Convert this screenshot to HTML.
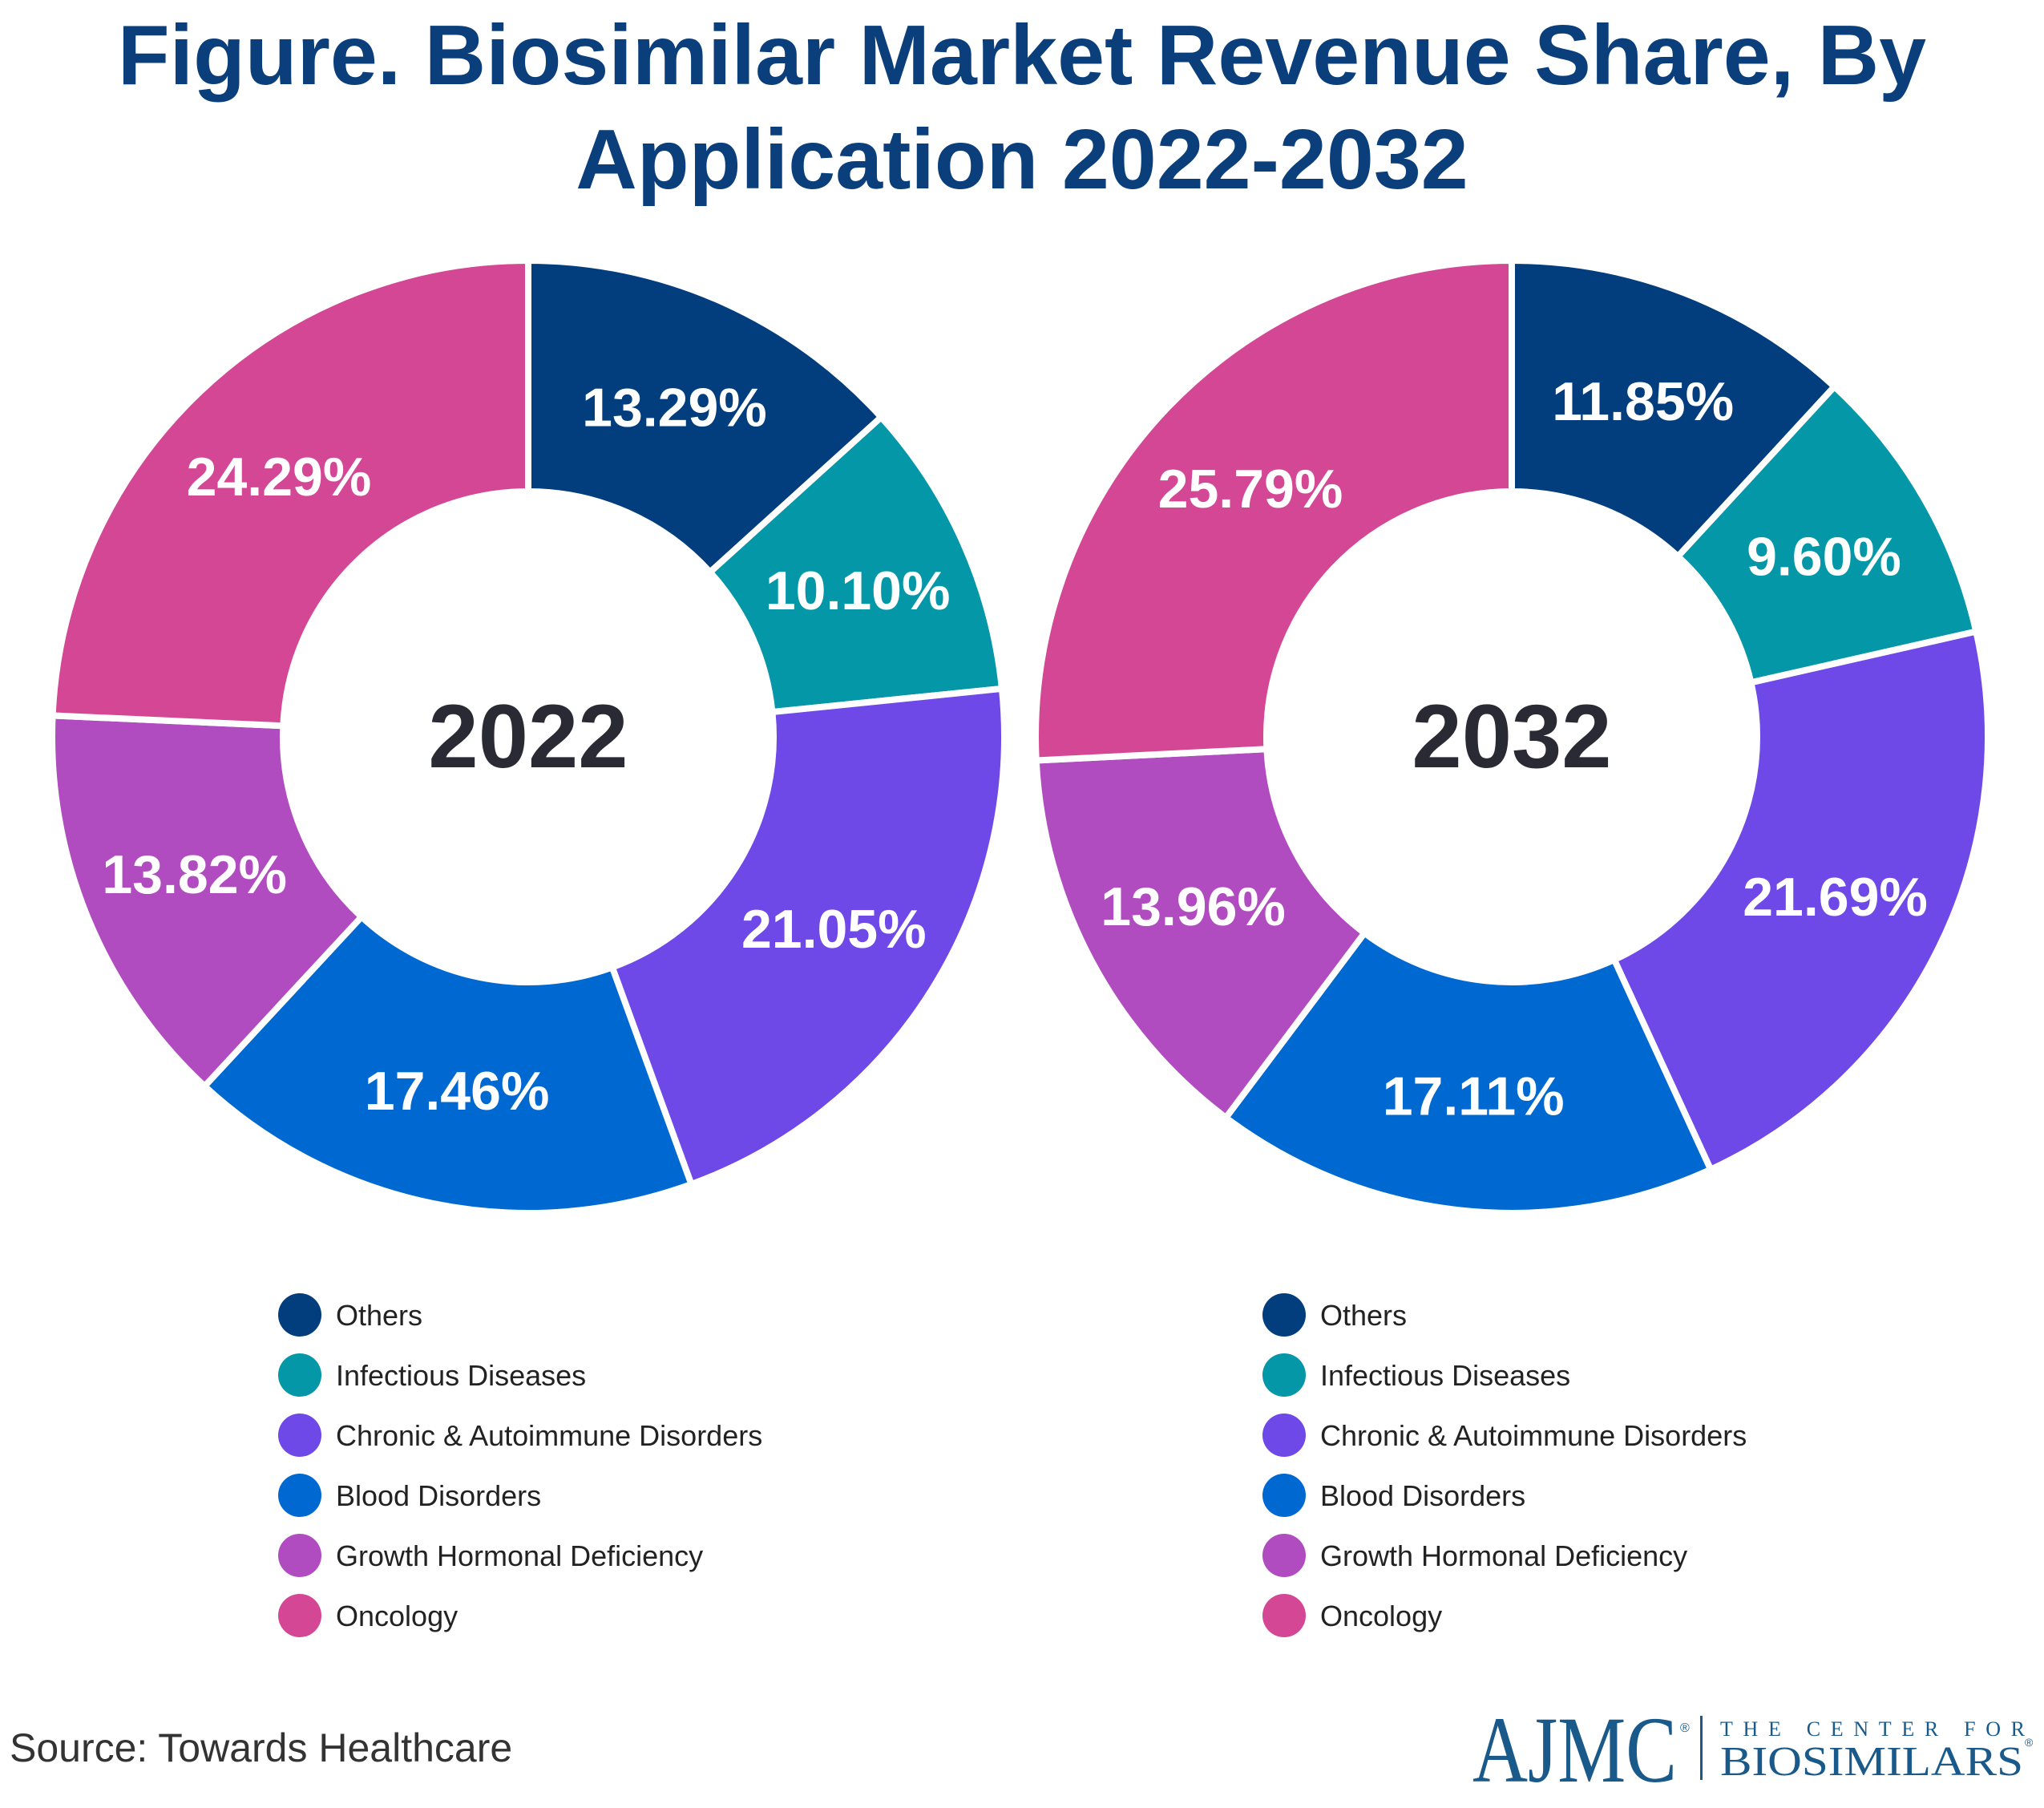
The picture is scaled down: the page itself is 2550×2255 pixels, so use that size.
<!DOCTYPE html>
<html><head><meta charset="utf-8"><style>
body{margin:0;background:#fff;width:2550px;height:2250px;overflow:hidden;font-family:"Liberation Sans",sans-serif}
</style></head><body>
<svg id="chart" width="2550" height="2250" xmlns="http://www.w3.org/2000/svg">
<text x="1275" y="105" text-anchor="middle" font-size="106" font-weight="bold" fill="#0b3f7c">Figure. Biosimilar Market Revenue Share, By</text>
<text x="1275" y="235" text-anchor="middle" font-size="106" font-weight="bold" fill="#0b3f7c">Application 2022-2032</text>
<text x="12" y="2197" font-size="50" fill="#333">Source: Towards Healthcare</text>
<g>
<text x="1837" y="2222" font-family="Liberation Serif,serif" font-size="118" fill="#1a5a8a" textLength="255" lengthAdjust="spacingAndGlyphs">AJMC</text>
<text x="2096" y="2160" font-size="16" fill="#1a5a8a">®</text>
<rect x="2121" y="2140" width="3" height="80" fill="#1a5a8a"/>
<text x="2146" y="2165" font-family="Liberation Serif,serif" font-size="26" fill="#1a5a8a" textLength="380" lengthAdjust="spacing">THE CENTER FOR</text>
<text x="2146" y="2214" font-family="Liberation Serif,serif" font-size="52" fill="#1a5a8a" textLength="378" lengthAdjust="spacingAndGlyphs">BIOSIMILARS</text>
<text x="2526" y="2178" font-size="14" fill="#1a5a8a">®</text>
</g>
</svg>
<script>
const categories=["Others","Infectious Diseases","Chronic & Autoimmune Disorders","Blood Disorders","Growth Hormonal Deficiency","Oncology"];
const values2022=[13.29,10.10,21.05,17.46,13.82,24.29];
const values2032=[11.85,9.60,21.69,17.11,13.96,25.79];
const years=["2022","2032"];
const colors=["#023e7d","#0497a7","#6f48e8","#0068d1","#b14cc0","#d44795"];
const svg=document.getElementById('chart');
const NS="http://www.w3.org/2000/svg";
function mk(t,a){const e=document.createElementNS(NS,t);for(const k in a)e.setAttribute(k,a[k]);svg.appendChild(e);return e;}
function pt(cx,cy,r,a){return [cx+r*Math.sin(a),cy-r*Math.cos(a)];}
function donut(vals,cx,cy,year,lx){
 const R=594,r=306,tot=vals.reduce((s,v)=>s+v,0);let a0=0;
 vals.forEach((v,i)=>{
  const a1=a0+v/tot*2*Math.PI,lg=(a1-a0)>Math.PI?1:0;
  const [x0,y0]=pt(cx,cy,R,a0),[x1,y1]=pt(cx,cy,R,a1),[x2,y2]=pt(cx,cy,r,a1),[x3,y3]=pt(cx,cy,r,a0);
  const p=mk('path',{d:`M${x0},${y0}A${R},${R} 0 ${lg} 1 ${x1},${y1}L${x2},${y2}A${r},${r} 0 ${lg} 0 ${x3},${y3}Z`,fill:colors[i],stroke:'#fff','stroke-width':8});
  
  
  const am=(a0+a1)/2,[tx,ty]=pt(cx,cy,(R+r)/2,am);
  const t=mk('text',{x:tx,y:ty+24,'text-anchor':'middle','font-size':68,'font-weight':'bold',fill:'#fff'});
  t.textContent=v.toFixed(2)+'%';
  
  
  a0=a1;
 });
 const c=mk('text',{x:cx,y:cy+38,'text-anchor':'middle','font-size':112,'font-weight':'bold',fill:'#2a2a35'});
 c.textContent=year;
 
 
 categories.forEach((n,i)=>{
  const y=1640+i*75;
  const ci=mk('circle',{cx:lx,cy:y,r:27,fill:colors[i]});
  
  
  const t=mk('text',{x:lx+45,y:y+13,'font-size':36,fill:'#222'});
  t.textContent=n;
  
  
 });
}
donut(values2022,659,919,years[0],374);
donut(values2032,1886,919,years[1],1602);
</script>
</body></html>
